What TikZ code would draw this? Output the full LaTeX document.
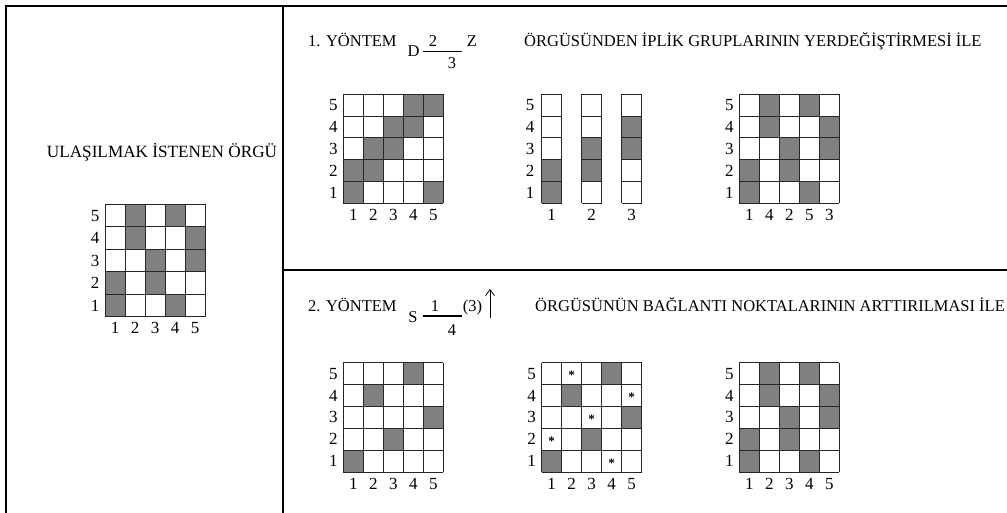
\documentclass[tikz,border=0pt]{standalone}
\usepackage{fontspec}
\setmainfont{Liberation Serif}
\usetikzlibrary{arrows.meta}

\definecolor{weftgray}{RGB}{128,128,128}

% one 5x5 weave grid: name, left x, top y, cell height, dark cells (col/row), column labels
\newcommand{\weavegrid}[6]{%
  \foreach \c/\r in {#5}
    \fill[darkcell] ({#2+20*(\c-1)},{#3+#4*(5-\r)}) rectangle ++(20,#4);
  \foreach \i in {0,...,5} {
    \draw[gridline] ({#2+20*\i},#3) -- ++(0,5*#4);
    \draw[gridline] (#2,{#3+#4*\i}) -- ++(100,0);
  }
  \foreach \r in {1,...,5}
    \node[lbl] (#1-r\r) at ({#2-10},{#3+#4*(5.5-\r)}) {\r};
  \foreach \t [count=\c] in {#6}
    \node[lbl] (#1-c\c) at ({#2+20*\c-10},{#3+5*#4+11.5}) {\t};
}

\begin{document}
\begin{tikzpicture}[x=1pt, y=-1pt,
  frame/.style={line width=1.6pt},
  gridline/.style={line width=0.9pt, draw=black!85},
  darkcell/.style={fill=weftgray},
  lbl/.style={inner sep=0pt, font=\fontsize{17}{19}\selectfont},
  title/.style={inner sep=0pt, anchor=base west, font=\fontsize{16.5}{19}\selectfont},
  sym/.style={inner sep=0pt, anchor=base, font=\fontsize{16.5}{19}\selectfont},
  star/.style={inner sep=0pt, font=\fontsize{13}{13}\selectfont\bfseries},
  fracline/.style={line width=1.3pt}
]
\useasboundingbox (0,0) rectangle (1007,513);

% frame
\draw[frame] (6,513) -- (6,6) -- (1007,6);
\draw[frame] (283,6) -- (283,513);
\draw[frame] (283,270) -- (1007,270);

% target weave
\node[inner sep=0pt, anchor=base, font=\fontsize{17.2}{20}\selectfont] (target) at (162,157.5) {ULAŞILMAK İSTENEN ÖRGÜ};
\weavegrid{tg}{105}{204.3}{22.5}{2/5,4/5,2/4,5/4,3/3,5/3,1/2,3/2,1/1,4/1}{1,2,3,4,5}

% method 1
\node[title] (m1) at (308,46.5) {1. YÖNTEM};
\node[sym] (m1d) at (413.5,56.7) {D};
\node[sym] (m1up) at (433,46.7) {2};
\node[sym] (m1dn) at (452,68.3) {3};
\node[sym] (m1z) at (472,46.7) {Z};
\coordinate (m1l) at (423,51.7);
\coordinate (m1r) at (462,51.7);
\draw[fracline] (m1l) -- (m1r);
\node[title] (m1txt) at (524,46.5) {ÖRGÜSÜNDEN İPLİK GRUPLARININ YERDEĞİŞTİRMESİ İLE};

\weavegrid{ga}{343.3}{94.3}{21.8}{4/5,5/5,3/4,4/4,2/3,3/3,1/2,2/2,1/1,5/1}{1,2,3,4,5}

% thread groups
\foreach \k/\lo/\hi in {1/1/2,2/2/3,3/3/4} {
  \fill[darkcell] ({541.5+40*(\k-1)},{94.3+21.8*(5-\hi)}) rectangle ++(20,43.6);
  \foreach \i in {0,...,5}
    \draw[gridline] ({541.5+40*(\k-1)},{94.3+21.8*\i}) -- ++(20,0);
  \draw[gridline] ({541.5+40*(\k-1)},94.3) -- ++(0,109);
  \draw[gridline] ({561.5+40*(\k-1)},94.3) -- ++(0,109);
  \node[lbl] (gb-c\k) at ({551.5+40*(\k-1)},214.8) {\k};
}
\foreach \r in {1,...,5}
  \node[lbl] (gb-r\r) at (530,{94.3+21.8*(5.5-\r)}) {\r};

\weavegrid{gc}{739.3}{94.3}{21.8}{2/5,4/5,2/4,5/4,3/3,5/3,1/2,3/2,1/1,4/1}{1,4,2,5,3}

% method 2
\node[title] (m2) at (308,311.7) {2. YÖNTEM};
\node[sym] (m2s) at (413,322.7) {S};
\node[sym] (m2up) at (435,311.7) {1};
\node[sym] (m2dn) at (452,335) {4};
\node[sym] (m2n) at (472.5,311.7) {(3)};
\coordinate (m2l) at (423,316);
\coordinate (m2r) at (462,316);
\draw[fracline] (m2l) -- (m2r);
\coordinate (uptail) at (490,317.5);
\coordinate (uphead) at (490,289);
\draw[line width=0.8pt, -{Straight Barb[length=6pt, width=9pt]}] (uptail) -- (uphead);
\node[title] (m2txt) at (535,311.7) {ÖRGÜSÜNÜN BAĞLANTI NOKTALARININ ARTTIRILMASI İLE};

\weavegrid{gd}{343.3}{362.7}{21.9}{4/5,2/4,5/3,3/2,1/1}{1,2,3,4,5}
\weavegrid{ge}{541.7}{362.7}{21.9}{4/5,2/4,5/3,3/2,1/1}{1,2,3,4,5}
\foreach \c/\r in {2/5,5/4,3/3,1/2,4/1}
  \node[star] (ge-s\c) at ({541.7+20*\c-10},{362.7+21.9*(5.5-\r)+1.5}) {*};
\weavegrid{gf}{739.3}{362.7}{21.9}{2/5,4/5,2/4,5/4,3/3,5/3,1/2,3/2,1/1,4/1}{1,2,3,4,5}

\end{tikzpicture}
\end{document}
